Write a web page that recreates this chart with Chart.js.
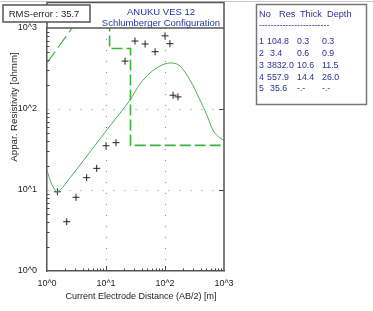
<!DOCTYPE html>
<html>
<head>
<meta charset="utf-8">
<script src="https://cdn.jsdelivr.net/npm/chart.js@4"></script>
<style>
html, body { margin:0; padding:0; background:#fff; }
#wrap { width:373px; height:311px; }
</style>
</head>
<body>
<div id="wrap"><canvas id="miGrafico" width="373" height="311"></canvas></div>
<script>
// field data: AB/2 [m] and apparent resistivity [ohmm]
var abHalf  = [1.5, 2.16, 3.1, 4.7, 6.96, 10, 14.8, 21, 31, 46, 68, 100, 121, 137, 166];
var rhoMeas = [9.5, 4.06, 8.13, 14.2, 18.5, 35.2, 38.4, 390, 690, 635, 510, 800, 640, 148, 141];

// calculated curve
var curveX = [1, 1.08, 1.22, 1.37, 1.48, 1.8, 2.45, 3.62, 5.35, 7.91, 11.7, 17.3, 25.5, 37.7, 55.7, 82.3, 121.6, 179.5, 265, 392, 514, 648, 792, 1000];
var curveY = [17.7, 14.5, 11.5, 10.0, 9.45, 10.6, 14.1, 20.3, 29.5, 42.7, 61.9, 89, 129, 204, 278, 340, 370, 340, 228, 129, 84, 55, 46, 41];

// short dashed piece top left
var diagX = [1, 2.65];
var diagY = [370, 1000];

// layer table
var layerNo    = ['1', '2', '3', '4', '5'];
var layerRes   = ['104.8', '3.4', '3832.0', '557.9', '35.6'];
var layerThick = ['0.3', '0.6', '10.6', '14.4', '-.-'];
var layerDepth = ['0.3', '0.9', '11.5', '26.0', '-.-'];

var decadeTicks = [1, 10, 100, 1000];
var titulo = ['ANUKU VES 12', 'Schlumberger Configuration'];
var rmsError = '35.7';

var NARROW = "'Liberation Sans Narrow', 'Liberation Sans', Arial, sans-serif";
var ARIAL = "'Liberation Sans', Arial, sans-serif";

function pts(xs, ys) {
    return xs.map(function (x, i) { return {x: x, y: ys[i]}; });
}

// stepped model: each layer starts at the depth of the one above
var modelPts = [];
for (var i = 0; i < layerRes.length; i++) {
    var start = i == 0 ? 0.1 : parseFloat(layerDepth[i - 1]);
    modelPts.push({x: start, y: parseFloat(layerRes[i])});
}
modelPts.push({x: 5000, y: parseFloat(layerRes[layerRes.length - 1])});

var decor = {
    id: 'decor',
    afterDraw: function (chart) {
        var c = chart.ctx, a = chart.chartArea;
        var xs = chart.scales.x, ys = chart.scales.y;
        c.save();

        // thin strip on top
        c.strokeStyle = '#c3cad3';
        c.lineWidth = 1;
        c.beginPath(); c.moveTo(0, 1.5); c.lineTo(373, 1.5); c.stroke();

        // frame around plot and title area
        c.strokeStyle = '#555';
        c.lineWidth = 1.5;
        c.beginPath();
        c.moveTo(a.left, a.top); c.lineTo(a.left, 2.5); c.lineTo(a.right, 2.5);
        c.lineTo(a.right, a.bottom);
        c.moveTo(a.left, a.top); c.lineTo(a.right, a.top);
        c.stroke();

        // minor / major ticks
        c.lineWidth = 1;
        c.strokeStyle = '#444';
        c.beginPath();
        for (var d = 1; d < 1000; d *= 10) {
            for (var m = 2; m <= 9; m++) {
                var py = Math.round(ys.getPixelForValue(d * m)) + 0.5;
                c.moveTo(a.left, py); c.lineTo(a.left + 2.5, py);
                var px = Math.round(xs.getPixelForValue(d * m)) + 0.5;
                c.moveTo(px, a.bottom); c.lineTo(px, a.bottom - 2.5);
            }
        }
        [10, 100].forEach(function (v) {
            var px = Math.round(xs.getPixelForValue(v)) + 0.5;
            c.moveTo(px, a.bottom); c.lineTo(px, a.bottom - 5);
            var py = Math.round(ys.getPixelForValue(v)) + 0.5;
            c.moveTo(a.right, py); c.lineTo(a.right - 5, py);
        });
        c.stroke();

        // title
        c.fillStyle = '#2536a6';
        c.font = '9.5px ' + NARROW;
        c.textAlign = 'center';
        c.textBaseline = 'middle';
        c.fillText(titulo[0], 161, 12);
        c.fillText(titulo[1], 161, 23);

        // RMS box
        c.fillStyle = '#fff';
        c.fillRect(3, 5, 87, 17);
        c.strokeStyle = '#555';
        c.lineWidth = 1.5;
        c.strokeRect(3, 5, 87, 17);
        c.fillStyle = '#222';
        c.font = '9.5px ' + NARROW;
        c.fillText('RMS-error : ' + rmsError, 44, 14);

        // axis titles
        c.font = '9px ' + NARROW;
        c.fillText('Current Electrode Distance (AB/2) [m]', 141, 297);
        c.save();
        c.translate(14, 107);
        c.rotate(-Math.PI / 2);
        c.font = '9.7px ' + ARIAL;
        c.fillText('Appar. Resistivity [ohmm]', 0, 0);
        c.restore();

        // layer table
        c.fillStyle = '#fff';
        c.fillRect(256.5, 4.5, 110, 100);
        c.strokeStyle = '#777';
        c.lineWidth = 1.5;
        c.strokeRect(256.5, 4.5, 110, 100);
        c.fillStyle = '#2c2f96';
        c.textAlign = 'left';
        c.font = '9.2px ' + ARIAL;
        c.fillText('No', 259, 14);
        c.fillText('Res', 279, 14);
        c.fillText('Thick', 300, 14);
        c.fillText('Depth', 327, 14);
        c.font = '8.8px ' + ARIAL;
        c.fillText('------------------------', 259, 26);
        for (var r = 0; r < layerNo.length; r++) {
            var y = 42 + r * 11.7;
            c.fillText(layerNo[r], 259, y);
            c.fillText(layerRes[r], 267 + (layerRes[r].length < 5 ? 3 : 0), y);
            c.fillText(layerThick[r], 297, y);
            c.fillText(layerDepth[r], 322, y);
        }
        c.restore();
    }
};

function decadeLabel(v) {
    return '10^' + Math.round(Math.log10(v));
}

function gridColor(ctx) {
    var v = ctx.tick && ctx.tick.value;
    return (v == 10 || v == 100) ? '#8c8c8c' : 'rgba(0,0,0,0)';
}

const GRAFICO = document.getElementById('miGrafico');

let grafico = new Chart(GRAFICO, {
    type: 'scatter',
    data: {
        datasets: [{
            label: 'Calculated',
            data: pts(curveX, curveY),
            showLine: true,
            borderColor: '#4caf50',
            borderWidth: 1,
            pointRadius: 0,
            cubicInterpolationMode: 'monotone'
        }, {
            label: 'Model',
            data: modelPts,
            showLine: true,
            stepped: 'before',
            borderColor: '#3cb43c',
            borderWidth: 1.6,
            borderDash: [11, 4],
            pointRadius: 0
        }, {
            label: 'Model start',
            data: pts(diagX, diagY),
            showLine: true,
            borderColor: '#3cb43c',
            borderWidth: 1.2,
            borderDash: [14, 5],
            pointRadius: 0
        }, {
            label: 'Observed',
            data: pts(abHalf, rhoMeas),
            pointStyle: 'cross',
            pointRadius: 3.5,
            borderColor: '#222',
            borderWidth: 1
        }]
    },
    options: {
        responsive: false,
        animation: false,
        layout: { padding: { left: 0, right: 149, top: 28, bottom: 0 } },
        plugins: {
            legend: { display: false },
            tooltip: { enabled: false }
        },
        scales: {
            x: {
                type: 'logarithmic',
                min: 1, max: 1000,
                afterBuildTicks: function (s) { s.ticks = decadeTicks.map(function (v) { return {value: v}; }); },
                afterFit: function (s) { s.height = 40; },
                ticks: {
                    callback: decadeLabel, padding: 7, autoSkip: false, maxRotation: 0,
                    color: '#222', font: { family: NARROW, size: 9 }
                },
                grid: { drawTicks: false, color: gridColor },
                border: { color: '#555', width: 1.5, dash: [1, 10] }
            },
            y: {
                type: 'logarithmic',
                min: 1, max: 1000,
                afterBuildTicks: function (s) { s.ticks = decadeTicks.map(function (v) { return {value: v}; }); },
                afterFit: function (s) { s.width = 47; },
                ticks: {
                    callback: decadeLabel, padding: 10, autoSkip: false,
                    color: '#222', font: { family: NARROW, size: 9 }
                },
                grid: { drawTicks: false, color: gridColor },
                border: { color: '#555', width: 1.5, dash: [1, 10] }
            }
        }
    },
    plugins: [decor]
});
</script>
</body>
</html>
